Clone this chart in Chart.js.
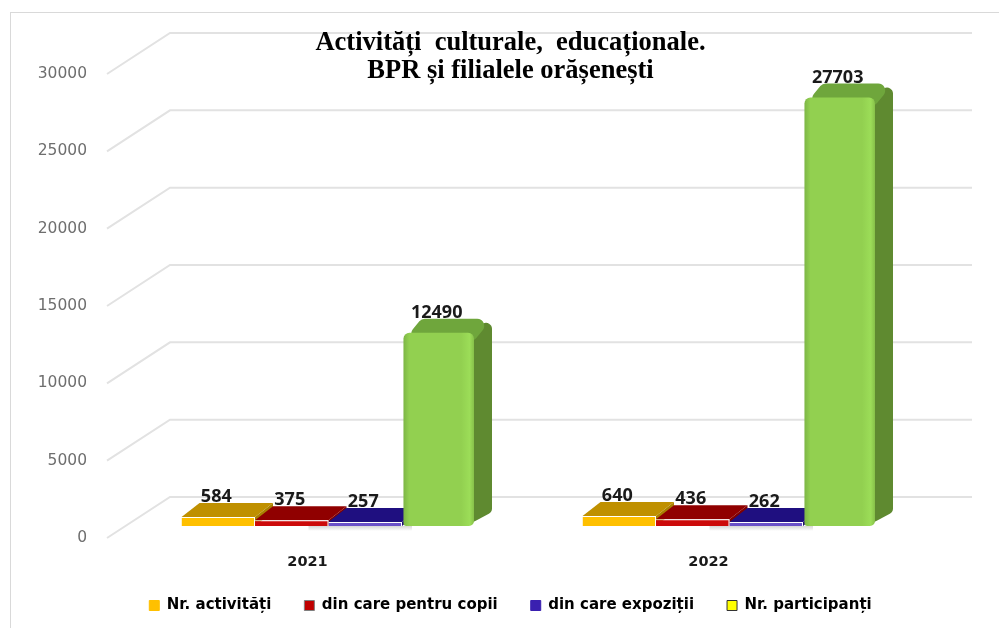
<!DOCTYPE html>
<html>
<head>
<meta charset="utf-8">
<style>
  html, body { margin: 0; background: #fff; }
  #frame { position: absolute; left: 10px; top: 12px; width: 995px; height: 630px; border: 1px solid #d9d9d9; }
  #wrap { position: absolute; left: 0; top: 0; width: 999px; height: 628px; overflow: hidden; }
  body { width: 999px; height: 628px; overflow: hidden; }
  canvas { filter: blur(0.4px); }
</style>
<script src="https://cdn.jsdelivr.net/npm/chart.js@4"></script>
</head>
<body>
<div id="wrap">
  <div id="frame"></div>
  <canvas id="chart" width="999" height="628" style="position:absolute;left:0;top:0"></canvas>
</div>
<script>
const years = ['2021', '2022'];
const activitati = [584, 640];
const pentruCopii = [375, 436];
const expozitii = [257, 262];
const participanti = [12490, 27703];
const seriesNames = ['Nr. activități', 'din care pentru copii', 'din care expoziții', 'Nr. participanți'];
const titleLines = ['Activități  culturale,  educaționale.', 'BPR și filialele orășenești'];

const frontColors = ['#ffc000', '#cc0a0a', '#6a50c8', '#92d050'];
const topColors = ['#bf9000', '#900000', '#1f0f80', '#6fa63c'];
const sideColors = ['#a88000', '#800000', '#1a0c70', '#5f8a30'];
const legendFill = ['#ffc000', '#c00000', '#3a20b0', '#ffff00'];
const legendStroke = ['#ffc000', '#7f7f7f', '#3a20b0', '#333333'];

const depthX = 18, depthY = -14;

function roundedFace(ctx, pts, r) {
  ctx.beginPath();
  ctx.moveTo((pts[0][0] + pts[3][0]) / 2, (pts[0][1] + pts[3][1]) / 2);
  for (let i = 0; i < 4; i++) {
    const p = pts[i], n = pts[(i + 1) % 4];
    ctx.arcTo(p[0], p[1], n[0], n[1], r);
  }
  ctx.closePath();
}

// drawn before the title so the title sits on top of the back wall lines
const floorGrid = {
  id: 'floorGrid',
  beforeDraw(chart) {
    const { ctx, chartArea, scales } = chart;
    ctx.save();
    ctx.strokeStyle = '#e2e2e2';
    ctx.lineWidth = 2;
    scales.y.ticks.forEach((t) => {
      const y = scales.y.getPixelForValue(t.value);
      ctx.beginPath();
      ctx.moveTo(chartArea.left - 21, y);
      ctx.lineTo(chartArea.left + 42, y - 41);
      ctx.lineTo(chartArea.right + 42, y - 41);
      ctx.stroke();
    });
    ctx.restore();
  },
};

const bars3d = {
  id: 'bars3d',
  beforeDatasetsDraw(chart) {
    const { ctx } = chart;
    ctx.save();
    years.forEach((_, i) => {
      chart.data.datasets.forEach((ds, d) => {
        const bar = chart.getDatasetMeta(d).data[i];
        const left = bar.x - bar.width / 2, right = bar.x + bar.width / 2;
        const r = d === 3 ? 7 : 0;
        // soft shadow on the floor under the low bars
        if (d === 2) {
          const g = ctx.createLinearGradient(0, bar.base, 0, bar.base + 5);
          g.addColorStop(0, 'rgba(120,120,120,0.3)');
          g.addColorStop(1, 'rgba(120,120,120,0)');
          ctx.fillStyle = g;
          ctx.fillRect(left - 20, bar.base, bar.width + 30, 5);
        }
        ctx.fillStyle = sideColors[d];
        ctx.beginPath();
        if (r) {
          roundedFace(ctx, [[right - 8, bar.y], [right + depthX, bar.y + depthY], [right + depthX, bar.base + depthY], [right - 8, bar.base]], 6);
        } else {
          ctx.moveTo(right, bar.y);
          ctx.lineTo(right + depthX, bar.y + depthY);
          ctx.lineTo(right + depthX, bar.base + depthY);
          ctx.lineTo(right, bar.base);
          ctx.closePath();
        }
        ctx.fill();
        ctx.fillStyle = topColors[d];
        if (r) {
          roundedFace(ctx, [[left, bar.y + 8], [left + depthX, bar.y + depthY], [right + depthX, bar.y + depthY], [right, bar.y + 8]], r);
        } else {
          ctx.beginPath();
          ctx.moveTo(left, bar.y);
          ctx.lineTo(left + depthX, bar.y + depthY);
          ctx.lineTo(right + depthX, bar.y + depthY);
          ctx.lineTo(right, bar.y);
          ctx.closePath();
        }
        ctx.fill();
      });
    });
    ctx.restore();
  },
  afterDatasetsDraw(chart) {
    const { ctx } = chart;
    ctx.save();
    ctx.font = 'bold 18px "Open Sans"';
    ctx.fillStyle = '#1a1a1a';
    ctx.textAlign = 'center';
    ctx.textBaseline = 'middle';
    chart.data.datasets.forEach((ds, d) => {
      chart.getDatasetMeta(d).data.forEach((bar, i) => {
        ctx.fillText(String(ds.data[i]), bar.x - 2, bar.y - 20);
      });
    });
    ctx.restore();
  },
};

function greenFace(c) {
  const chart = c.chart;
  if (!chart.chartArea || c.dataIndex === undefined) return frontColors[3];
  const cx = chart.scales.x.getPixelForValue(c.dataIndex);
  const g = chart.ctx.createLinearGradient(cx + 75, 0, cx + 147, 0);
  g.addColorStop(0, '#7db646');
  g.addColorStop(0.08, '#92d050');
  g.addColorStop(0.8, '#92d050');
  g.addColorStop(0.92, '#9cdd58');
  g.addColorStop(1, '#7fb644');
  return g;
}

function makeSeries(idx, values) {
  return {
    label: seriesNames[idx],
    data: values,
    yAxisID: 'yBars',
    backgroundColor: idx === 3 ? greenFace : frontColors[idx],
    borderColor: '#ffffff',
    borderWidth: idx === 3 ? 0 : { top: 1, right: 1 },
    borderSkipped: false,
    borderRadius: idx === 3 ? { topLeft: 6, topRight: 6, bottomLeft: 3, bottomRight: 5 } : 0,
    barPercentage: idx === 3 ? 0.96 : 1,
  };
}

new Chart(document.getElementById('chart'), {
  type: 'bar',
  data: {
    labels: years,
    datasets: [
      makeSeries(0, activitati),
      makeSeries(1, pentruCopii),
      makeSeries(2, expozitii),
      makeSeries(3, participanti),
    ],
  },
  options: {
    responsive: false,
    animation: false,
    categoryPercentage: 0.733,
    layout: { padding: { left: 22, right: 0, top: 74, bottom: 5 } },
    plugins: {
      tooltip: { enabled: false },
      title: {
        display: true,
        text: titleLines,
        color: '#000000',
        font: { family: '"Liberation Serif"', size: 26.5, weight: 'bold', lineHeight: 1.057 },
        padding: { top: -45, bottom: 45 - 2 * 26.5 * 1.057 },
      },
      legend: {
        position: 'bottom',
        labels: {
          color: '#1a1a1a',
          font: { family: '"DejaVu Sans"', size: 15, weight: 'bold' },
          boxWidth: 10,
          boxHeight: 10,
          padding: 33,
          generateLabels() {
            return seriesNames.map((name, i) => ({
              text: name,
              fillStyle: legendFill[i],
              strokeStyle: legendStroke[i],
              lineWidth: 1,
              datasetIndex: i,
            }));
          },
        },
      },
    },
    scales: {
      x: {
        grid: { display: false },
        border: { display: false },
        ticks: {
          color: '#1a1a1a',
          font: { family: '"DejaVu Sans"', size: 14.5, weight: 'bold' },
          labelOffset: -21,
          padding: 8,
          maxRotation: 0,
        },
        afterFit(s) {
          s.height = 27;
          // the year labels hang below this short axis box, do not clip them
          s._computeLabelArea = () => undefined;
        },
      },
      y: {
        position: 'left',
        min: 0,
        max: 30000,
        grid: { display: false, drawTicks: false },
        border: { display: false },
        ticks: {
          stepSize: 5000,
          color: '#6e6e6e',
          font: { family: '"DejaVu Sans"', size: 15.5 },
          padding: 41,
          callback: (v) => String(v),
        },
        afterFit(s) { s.width = 106; },
      },
      // same scale as y, raised 11-12px: the bars stand further back on the floor
      yBars: {
        position: 'right',
        min: -778,
        max: 29222,
        grid: { display: false, drawTicks: false },
        border: { display: false },
        ticks: { display: false },
        afterFit(s) { s.width = 69; },
      },
    },
  },
  plugins: [floorGrid, bars3d],
});
</script>
</body>
</html>
